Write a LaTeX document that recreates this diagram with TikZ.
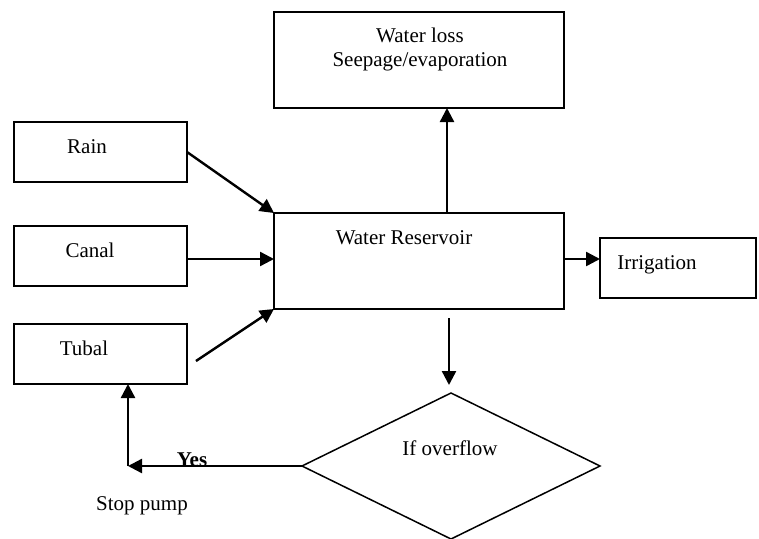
\documentclass[tikz,border=0pt]{standalone}
\usepackage{fontspec}
\setmainfont{Liberation Serif}
\usetikzlibrary{arrows.meta,shapes.geometric}
\begin{document}
\begin{tikzpicture}[x=1pt,y=-1pt,
  box/.style={draw,line width=1.5pt,inner sep=0pt},
  flow/.style={line width=2.4pt,-{Triangle[length=14pt,width=14pt]}},
  txt/.style={font=\fontsize{21}{24}\selectfont,inner sep=0pt}]
\useasboundingbox (0,0) rectangle (759,538);
% boxes
\draw[box] (274,12) rectangle (564,108);
\node[txt] (lossA) at (420,35) {Water loss};
\node[txt] (lossB) at (420,62) {Seepage/evaporation};
\coordinate (lossbot) at (447,108);
\draw[box] (274,213) rectangle (564,309);
\node[txt] (resTxt) at (404,238) {Water Reservoir};
\draw[box] (600,238) rectangle (756,298);
\node[txt] (irrTxt) at (657,265) {Irrigation};
\draw[box] (14,122) rectangle (187,182);
\node[txt] (rainTxt) at (87,147) {Rain};
\draw[box] (14,226) rectangle (187,286);
\node[txt] (canalTxt) at (90,250) {Canal};
\draw[box] (14,324) rectangle (187,384);
\node[txt] (tubalTxt) at (84,348) {Tubal};
% named anchors
\coordinate (rainR) at (187,152);
\coordinate (canalR) at (187,259);
\coordinate (tubalR) at (196,361);
\coordinate (tubalB) at (128,384);
\coordinate (resTL) at (274,213);
\coordinate (resL) at (274,259);
\coordinate (resBL) at (274,309);
\coordinate (resT) at (447,213);
\coordinate (resR) at (564,259);
\coordinate (irrL) at (600,259);
\coordinate (resB) at (449,318);
\coordinate (dTop) at (449,385);
\coordinate (corner) at (128,466);
% diamond
\draw[line width=1.5pt] (451,393) coordinate (dT) -- (600,466) coordinate (dR) -- (451,539) coordinate (dB) -- (302,466) coordinate (dL) -- cycle;
\node[txt] (ifTxt) at (450,448) {If overflow};
% arrows
\draw[flow] (rainR) -- (resTL);
\draw[flow] (canalR) -- (resL);
\draw[flow] (tubalR) -- (resBL);
\draw[flow] (resT) -- (lossbot);
\draw[flow] (resR) -- (irrL);
\draw[flow] (resB) -- (dTop);
\draw[flow] (dL) -- (corner);
\draw[flow] (corner) -- (tubalB);
\node[txt,font=\fontsize{21}{24}\selectfont\bfseries] (yesTxt) at (192,460) {Yes};
\node[txt] (stopTxt) at (142,506) {Stop pump};
\end{tikzpicture}
\end{document}
